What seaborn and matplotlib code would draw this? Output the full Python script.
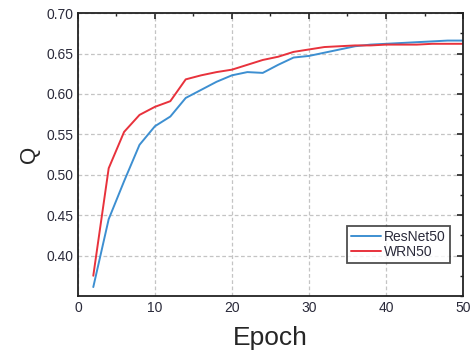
import numpy as np
import pandas as pd
import matplotlib.pyplot as plt
import seaborn as sns
from matplotlib.ticker import MultipleLocator, FixedLocator

# Epochs and Q values
epochs = [2, 4, 6, 8, 10, 12, 14, 16, 18, 20, 22, 24, 26,
          28, 30, 32, 34, 36, 38, 40, 42, 44, 46, 48, 50]
resnet50 = [0.361, 0.445, 0.492, 0.537, 0.560, 0.572, 0.595, 0.605, 0.615,
            0.623, 0.627, 0.626, 0.636, 0.645, 0.647, 0.651, 0.655, 0.659,
            0.661, 0.662, 0.663, 0.664, 0.665, 0.666, 0.666]
wrn50 = [0.375, 0.508, 0.553, 0.574, 0.584, 0.591, 0.618, 0.623, 0.627,
         0.630, 0.636, 0.642, 0.646, 0.652, 0.655, 0.658, 0.659, 0.660,
         0.660, 0.661, 0.661, 0.661, 0.662, 0.662, 0.662]
models = ['ResNet50', 'WRN50']
y_ticks = [0.40, 0.45, 0.50, 0.55, 0.60, 0.65, 0.70]

df = pd.DataFrame({'epoch': epochs * 2,
                   'Q': resnet50 + wrn50,
                   'model': [models[0]] * len(epochs) + [models[1]] * len(epochs)})

sns.set_style('white')
plt.rcParams['font.family'] = ['Liberation Sans', 'DejaVu Sans']

fig = plt.figure(figsize=(4.72, 3.54), dpi=100)
ax = fig.add_axes([0.165, 0.164, 0.816, 0.799])

sns.lineplot(data=df, x='epoch', y='Q', hue='model',
             palette=['#3d8fd1', '#e8323c'], linewidth=1.4, ax=ax)

ax.set_xlim(0, 50)
ax.set_ylim(0.35, 0.70)
ax.xaxis.set_major_locator(MultipleLocator(10))
ax.xaxis.set_minor_locator(MultipleLocator(5))
ax.yaxis.set_major_locator(FixedLocator(y_ticks))
ax.yaxis.set_minor_locator(MultipleLocator(0.025))
ax.yaxis.set_major_formatter(plt.FormatStrFormatter('%.2f'))

ax.grid(True, which='major', linestyle=(0, (3, 2)), color='#c4c4c4', linewidth=0.9)
ax.tick_params(which='both', direction='in', top=True, right=True,
               colors='#222222', labelcolor='#2a2a3a', labelsize=10)
ax.tick_params(which='major', length=4, width=1.2)
ax.tick_params(which='minor', length=2.5, width=1.0)
for s in ax.spines.values():
    s.set_color('#222222')
    s.set_linewidth(1.3)

ax.set_xlabel('Epoch', fontsize=19, labelpad=8)
ax.set_ylabel('Q', fontsize=16, labelpad=4)

leg = ax.legend(loc='lower right', bbox_to_anchor=(0.966, 0.115),
                fontsize=10, frameon=True, fancybox=False,
                handlelength=2.2, handletextpad=0.2, borderpad=0.3,
                labelspacing=0.1, borderaxespad=0)
leg.get_frame().set_edgecolor('#222222')
leg.get_frame().set_linewidth(1.3)
for t in leg.get_texts():
    t.set_color('#2a2a3a')

fig.savefig('out.png', dpi=100)
